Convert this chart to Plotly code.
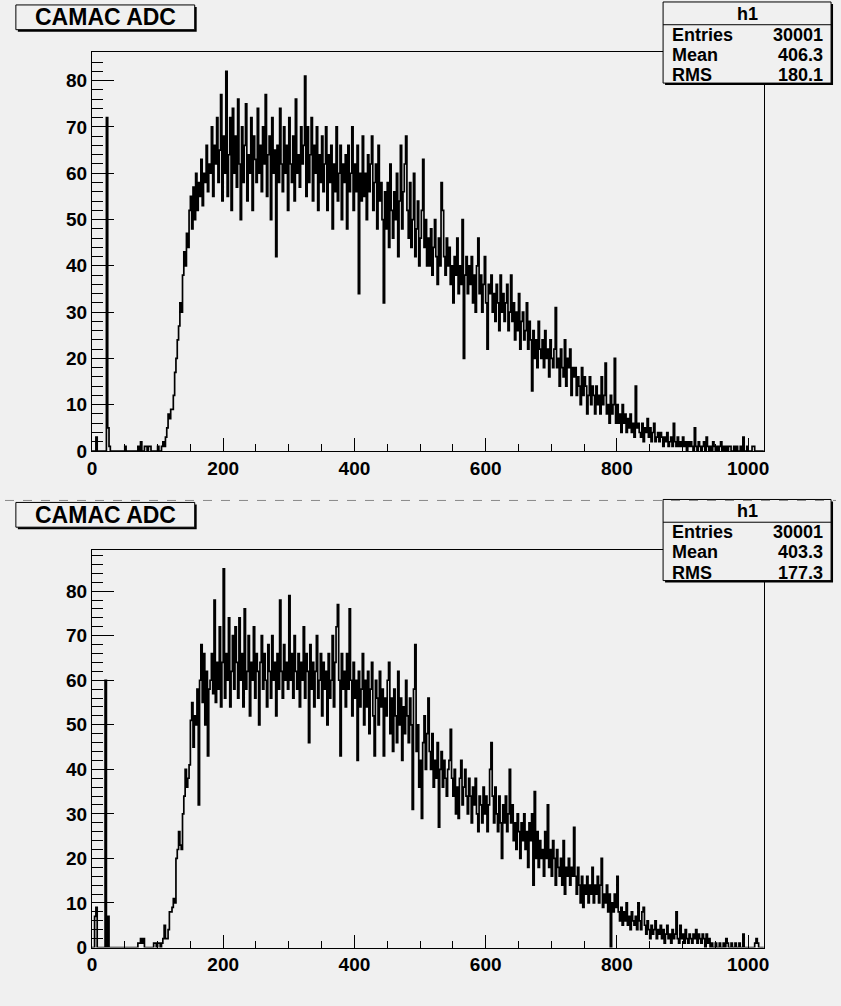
import numpy as np
import plotly.graph_objects as go

W, H = 841, 1006
BG = "#f0f0f0"
FONT = "Liberation Sans"

# Histogram definition (ADC channels)
x_low, x_high, bin_width = 0, 1024, 2

counts_top = [
    0,0,0,3,0,0,0,0,0,0,0,72,5,1,0,0,
    0,0,0,0,0,0,0,0,0,1,0,0,0,0,0,0,
    0,0,0,1,0,2,0,0,1,1,0,1,1,0,0,0,
    0,0,1,0,0,1,2,1,3,5,8,7,9,9,12,17,
    20,24,27,32,30,38,43,40,47,44,52,55,48,57,50,60,
    52,58,55,63,53,60,58,66,56,62,60,70,55,66,62,72,
    58,65,77,54,68,60,82,55,64,72,52,74,60,68,57,76,
    62,50,70,58,66,75,54,64,60,72,52,68,63,58,74,60,
    66,56,70,62,77,55,64,68,50,72,60,65,42,66,58,74,
    62,56,70,60,66,52,72,62,58,68,54,76,60,64,57,70,
    62,66,81,55,70,58,64,72,54,66,60,70,52,64,58,68,
    56,62,70,52,64,58,66,48,62,56,70,54,60,66,50,62,
    58,64,48,66,56,60,70,52,62,56,66,34,60,54,68,55,
    60,50,64,56,62,68,52,58,62,48,66,54,58,50,32,56,
    48,58,44,62,52,46,56,50,60,42,54,66,48,56,62,68,
    52,46,58,44,50,60,42,48,54,40,46,52,63,44,50,40,
    46,40,48,38,44,50,42,36,46,40,58,52,42,38,46,40,
    44,36,40,32,42,38,46,34,40,36,50,20,38,42,34,40,
    36,42,32,38,30,40,46,34,38,30,36,42,32,22,36,34,
    38,30,34,28,36,32,26,38,30,34,28,32,36,26,30,38,
    28,32,24,30,26,34,22,28,30,24,26,32,22,28,24,13,
    26,20,24,18,28,22,20,24,18,26,20,22,16,24,20,18,
    22,31,18,20,14,22,18,16,24,14,20,18,22,12,18,16,
    18,12,16,14,10,18,12,16,14,8,12,16,10,14,12,8,
    14,10,12,8,16,10,12,19,8,10,6,12,8,10,20,6,
    10,6,8,4,10,6,8,4,7,5,8,4,6,3,14,5,
    6,4,3,6,2,5,4,7,3,5,2,4,6,2,3,4,
    2,4,3,1,3,2,4,1,2,3,1,6,2,1,3,1,
    2,1,3,1,2,0,2,1,2,1,0,5,1,0,2,1,
    0,1,2,0,3,1,0,1,0,2,1,0,1,0,1,2,
    0,1,0,1,0,1,1,0,0,1,0,1,0,0,1,0,
    3,0,0,1,0,0,0,1,1,0,0,0,0,0,0,0,
]

counts_bottom = [
    0,0,7,9,0,0,0,0,0,0,60,0,7,0,0,0,
    0,0,0,0,0,0,0,0,0,0,0,0,0,0,0,0,
    0,0,0,1,1,2,1,2,0,0,0,0,0,0,0,1,
    1,0,1,1,0,1,2,5,2,2,4,8,8,9,11,10,
    20,22,26,23,22,30,34,40,36,38,41,51,55,45,52,50,
    58,32,60,68,55,66,50,62,43,58,60,66,57,78,55,64,
    58,72,54,64,85,56,66,60,74,54,62,70,58,72,64,56,
    74,60,66,54,76,58,62,70,52,64,60,72,56,66,62,50,
    64,70,58,66,60,54,68,62,56,70,60,64,52,66,58,78,
    62,56,68,60,64,58,79,60,66,56,70,62,58,66,54,64,
    60,72,56,66,62,46,68,58,64,54,62,70,56,60,66,52,
    64,58,62,50,66,56,60,70,54,64,72,77,60,43,66,58,
    62,54,66,58,76,60,52,64,56,60,42,62,54,58,66,50,
    60,54,62,48,58,64,52,43,60,56,50,62,54,58,43,56,
    52,60,64,48,56,44,58,52,46,62,50,56,42,54,48,60,
    52,46,56,50,31,58,68,44,50,36,42,29,46,52,40,48,
    56,44,40,48,36,42,38,46,27,40,44,36,42,38,34,40,
    42,49,38,34,40,30,36,29,38,42,32,36,40,34,30,38,
    34,28,36,32,38,30,26,34,32,28,36,30,34,26,32,40,
    46,34,28,36,30,26,34,28,20,32,28,34,26,30,40,28,
    32,24,28,22,30,26,20,28,24,30,22,26,18,28,24,30,
    14,35,20,26,18,24,20,22,16,26,20,32,18,22,16,24,
    20,14,22,18,16,20,14,24,12,18,16,20,14,18,16,27,
    16,12,18,14,10,16,9,14,12,16,10,14,12,18,10,14,
    12,16,10,14,20,9,12,10,14,8,12,0,10,8,12,9,
    16,8,6,9,5,8,6,10,5,7,4,8,6,5,7,4,
    10,6,4,8,9,5,3,6,4,2,5,3,4,6,2,4,
    3,5,2,4,1,3,5,2,3,1,4,2,3,8,2,1,
    5,2,3,1,4,2,1,3,2,1,3,2,4,1,3,2,
    1,3,2,0,3,1,2,0,1,0,0,1,0,0,1,0,
    0,1,0,2,1,0,0,1,0,0,1,0,0,1,0,0,
    3,0,0,0,0,0,0,0,0,1,2,1,0,0,0,0,
]

panels = [
    dict(counts=counts_top, title="CAMAC ADC", stats=[("Entries", "30001"), ("Mean", "406.3"), ("RMS", "180.1")]),
    dict(counts=counts_bottom, title="CAMAC ADC", stats=[("Entries", "30001"), ("Mean", "403.3"), ("RMS", "177.3")]),
]

# pixel layout of the two pads
pad_offsets = [0, 503]
frame_left, frame_right = 88, 768
frame_top = [53, 556]
frame_bottom = [456, 958]

def px(x):
    return x / W

def py(y):
    return 1 - y / H

fig = go.Figure()
shapes = []
annotations = []

for i, p in enumerate(panels):
    c = p["counts"]
    edges = np.arange(x_low, x_high + bin_width, bin_width)
    xs = list(edges)
    ys = list(c) + [c[-1]]
    xa = "x" if i == 0 else "x2"
    ya = "y" if i == 0 else "y2"
    fig.add_trace(go.Scatter(x=xs, y=ys, mode="lines", line=dict(color="black", width=1.7, shape="hv"),
                             xaxis=xa, yaxis=ya, showlegend=False, hoverinfo="skip"))
    ymax = max(c) * 1.05
    axis_common = dict(showgrid=False, zeroline=False, showline=True, linecolor="black", linewidth=1,
                       mirror=True, ticks="inside", tickcolor="black",
                       tickfont=dict(family=FONT, size=19, color="black", weight="bold"))
    xkey = "xaxis" if i == 0 else "xaxis2"
    ykey = "yaxis" if i == 0 else "yaxis2"
    fig.update_layout(**{
        xkey: dict(axis_common, domain=[px(frame_left), px(frame_right)], range=[x_low, x_high],
                   anchor=ya, tickvals=[0, 200, 400, 600, 800, 1000], ticklen=13, tickwidth=1.2,
                   minor=dict(dtick=50, tick0=0, ticklen=7, ticks="inside", tickcolor="black")),
        ykey: dict(axis_common, domain=[py(frame_bottom[i]), py(frame_top[i])], range=[0, ymax],
                   anchor=xa, dtick=10, tick0=0, ticklen=22, tickwidth=1.2,
                   minor=dict(dtick=2, tick0=0, ticklen=11, ticks="inside", tickcolor="black")),
    })

    off = pad_offsets[i]
    # title box with shadow
    tx0, ty0, tx1, ty1 = 11, 5 + off, 192, 30 + off
    shapes.append(dict(type="rect", xref="paper", yref="paper", x0=px(tx0 + 2), x1=px(tx1 + 2),
                       y0=py(ty1 + 2), y1=py(ty0 + 2), fillcolor="black", line=dict(width=0), layer="above"))
    shapes.append(dict(type="rect", xref="paper", yref="paper", x0=px(tx0), x1=px(tx1),
                       y0=py(ty1), y1=py(ty0), fillcolor=BG, line=dict(color="black", width=1), layer="above"))
    annotations.append(dict(xref="paper", yref="paper", x=px((tx0 + tx1) / 2), y=py((ty0 + ty1) / 2),
                            text="<b>" + p["title"] + "</b>", showarrow=False, xanchor="center", yanchor="middle",
                            font=dict(family=FONT, size=23, color="black")))
    # stats box with shadow
    sx0, sy0, sx1, sy1 = 666, 2 + off, 836, 84 + off
    shapes.append(dict(type="rect", xref="paper", yref="paper", x0=px(sx0 + 2), x1=px(sx1 + 2),
                       y0=py(sy1 + 2), y1=py(sy0 + 2), fillcolor="black", line=dict(width=0), layer="above"))
    shapes.append(dict(type="rect", xref="paper", yref="paper", x0=px(sx0), x1=px(sx1),
                       y0=py(sy1), y1=py(sy0), fillcolor=BG, line=dict(color="black", width=1), layer="above"))
    shapes.append(dict(type="line", xref="paper", yref="paper", x0=px(sx0), x1=px(sx1),
                       y0=py(25 + off), y1=py(25 + off), line=dict(color="black", width=1), layer="above"))
    annotations.append(dict(xref="paper", yref="paper", x=px((sx0 + sx1) / 2), y=py(14 + off),
                            text="<b>h1</b>", showarrow=False, xanchor="center", yanchor="middle",
                            font=dict(family=FONT, size=18, color="black")))
    for k, (lab, val) in enumerate(p["stats"]):
        yy = 35 + off + k * 20.5
        annotations.append(dict(xref="paper", yref="paper", x=px(673), y=py(yy), text="<b>" + lab + "</b>",
                                showarrow=False, xanchor="left", yanchor="middle",
                                font=dict(family=FONT, size=18, color="black")))
        annotations.append(dict(xref="paper", yref="paper", x=px(830), y=py(yy), text="<b>" + val + "</b>",
                                showarrow=False, xanchor="right", yanchor="middle",
                                font=dict(family=FONT, size=18, color="black")))

# pad separator
shapes.append(dict(type="line", xref="paper", yref="paper", x0=0, x1=1, y0=py(506), y1=py(506),
                   line=dict(color="#888888", width=1, dash="dash")))

fig.update_layout(width=W, height=H, margin=dict(l=0, r=0, t=0, b=0), paper_bgcolor=BG, plot_bgcolor=BG,
                  shapes=shapes, annotations=annotations)
fig.write_html("out.html")
